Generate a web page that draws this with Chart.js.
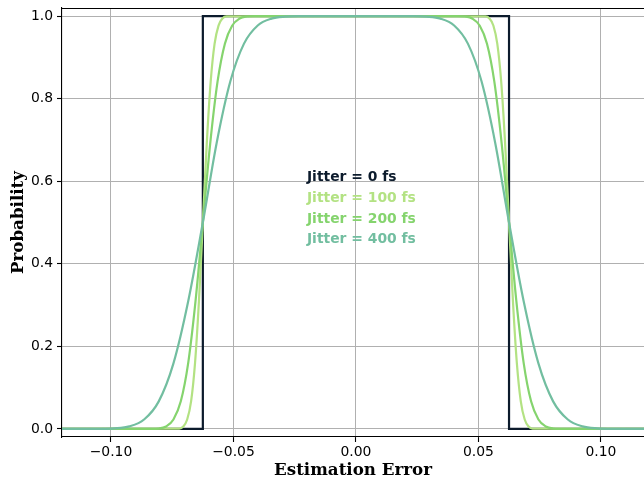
<!DOCTYPE html>
<html>
<head>
<meta charset="utf-8">
<script src="https://cdn.jsdelivr.net/npm/chart.js@4"></script>
<style>
  body { margin: 0; background: #fff; }
  #wrap { width: 644px; height: 478px; position: relative; }
</style>
</head>
<body>
<div id="wrap"><canvas id="jitterChart"></canvas></div>
<script>
// values
const jitter0X = [-0.12, -0.0625, -0.0625, 0.0625, 0.0625, 0.12];
const jitter0Y = [0, 0, 1, 1, 0, 0];

const jitter100X = [-0.12, -0.0721, -0.0705, -0.0689, -0.0673, -0.0657, -0.0641, -0.0625, -0.0609, -0.0593, -0.0577, -0.0561, -0.0545, -0.0529, 0,
  0.0529, 0.0545, 0.0561, 0.0577, 0.0593, 0.0609, 0.0625, 0.0641, 0.0657, 0.0673, 0.0689, 0.0705, 0.0721, 0.12];
const jitter100Y = [0, 0.001, 0.006, 0.023, 0.067, 0.159, 0.309, 0.5, 0.691, 0.841, 0.933, 0.977, 0.994, 0.999, 1,
  0.999, 0.994, 0.977, 0.933, 0.841, 0.691, 0.5, 0.309, 0.159, 0.067, 0.023, 0.006, 0.001, 0];

const jitter200X = [-0.12, -0.0835, -0.0805, -0.0775, -0.0745, -0.0715, -0.0685, -0.0655, -0.0625, -0.0595, -0.0565, -0.0535, -0.0505, -0.0475, -0.0445, -0.0415, 0,
  0.0415, 0.0445, 0.0475, 0.0505, 0.0535, 0.0565, 0.0595, 0.0625, 0.0655, 0.0685, 0.0715, 0.0745, 0.0775, 0.0805, 0.0835, 0.12];
const jitter200Y = [0, 0.0002, 0.001, 0.006, 0.023, 0.067, 0.159, 0.309, 0.5, 0.691, 0.841, 0.933, 0.977, 0.994, 0.999, 1.0, 1,
  1.0, 0.999, 0.994, 0.977, 0.933, 0.841, 0.691, 0.5, 0.309, 0.159, 0.067, 0.023, 0.006, 0.001, 0.0002, 0];

const jitter400X = [-0.12, -0.1045, -0.0985, -0.0925, -0.0865, -0.0805, -0.0745, -0.0685, -0.0625, -0.0569, -0.0513, -0.0457, -0.0401, -0.0345, -0.0289, -0.0233, 0,
  0.0233, 0.0289, 0.0345, 0.0401, 0.0457, 0.0513, 0.0569, 0.0625, 0.0685, 0.0745, 0.0805, 0.0865, 0.0925, 0.0985, 0.1045, 0.12];
const jitter400Y = [0, 0.0002, 0.0013, 0.0062, 0.0228, 0.0668, 0.1587, 0.3085, 0.5, 0.6915, 0.8413, 0.9332, 0.9772, 0.9938, 0.9987, 0.9998, 1,
  0.9998, 0.9987, 0.9938, 0.9772, 0.9332, 0.8413, 0.6915, 0.5, 0.3085, 0.1587, 0.0668, 0.0228, 0.0062, 0.0013, 0.0002, 0];

const seriesLabels = ['Jitter = 0 fs', 'Jitter = 100 fs', 'Jitter = 200 fs', 'Jitter = 400 fs'];
const seriesColors = ['#0c1b2c', '#b3e283', '#85d46e', '#72bea0'];

const xTicks = [-0.1, -0.05, 0, 0.05, 0.1];
const xTickLabels = ['\u22120.10', '\u22120.05', '0.00', '0.05', '0.10'];
const yTicks = [0, 0.2, 0.4, 0.6, 0.8, 1.0];
const yTickLabels = ['0.0', '0.2', '0.4', '0.6', '0.8', '1.0'];

// text annotation anchor (data coords)
const labelX = -0.02;
const labelY = [0.6, 0.55, 0.5, 0.45];

function pairs(xs, ys) {
  return xs.map((x, i) => ({ x: x, y: ys[i] }));
}

const allX = [jitter0X, jitter100X, jitter200X, jitter400X];
const allY = [jitter0Y, jitter100Y, jitter200Y, jitter400Y];

const datasets = seriesLabels.map((label, i) => ({
  label: label,
  data: pairs(allX[i], allY[i]),
  borderColor: seriesColors[i],
  borderWidth: 2.2,
  pointRadius: 0,
  fill: false,
  cubicInterpolationMode: i === 0 ? 'default' : 'monotone',
  tension: 0,
  order: 4 - i
}));

const framePlugin = {
  id: 'frame',
  afterDatasetsDraw(chart) {
    const { ctx, chartArea, scales } = chart;
    ctx.save();
    // top spine
    ctx.strokeStyle = '#000';
    ctx.lineWidth = 1.1;
    ctx.beginPath();
    ctx.moveTo(chartArea.left, chartArea.top + 0.5);
    ctx.lineTo(chartArea.right, chartArea.top + 0.5);
    ctx.stroke();
    // series labels
    ctx.font = 'bold 13.9px "DejaVu Sans"';
    ctx.textBaseline = 'alphabetic';
    ctx.textAlign = 'left';
    const px = scales.x.getPixelForValue(labelX);
    seriesLabels.forEach((t, i) => {
      ctx.fillStyle = seriesColors[i];
      ctx.fillText(t, px, scales.y.getPixelForValue(labelY[i]));
    });
    ctx.restore();
  }
};

const tickFont = { family: 'DejaVu Sans', size: 13.9 };
const titleFont = { family: 'DejaVu Serif', size: 16.7, weight: 'bold', lineHeight: 1 };

new Chart(document.getElementById('jitterChart').getContext('2d'), {
  type: 'line',
  data: { datasets: datasets },
  options: {
    responsive: true,
    maintainAspectRatio: false,
    animation: false,
    layout: { padding: { top: 8, right: 0, left: 0, bottom: 0 } },
    plugins: { legend: { display: false }, tooltip: { enabled: false } },
    scales: {
      x: {
        type: 'linear',
        min: -0.12,
        max: 0.1176,
        afterBuildTicks(scale) { scale.ticks = xTicks.map(v => ({ value: v })); },
        afterFit(scale) { scale.height = 41; scale.paddingLeft = 0; scale.paddingRight = 0; },
        ticks: {
          font: tickFont,
          color: '#000',
          padding: 2,
          maxRotation: 0,
          callback: (v, i) => xTickLabels[i]
        },
        grid: { color: '#b0b0b0', lineWidth: 1, tickColor: '#000', tickLength: 5, tickWidth: 1.1 },
        border: { color: '#000', width: 1.1 },
        title: { display: true, text: 'Estimation Error', font: titleFont, color: '#000', padding: { top: 0, bottom: -1 } }
      },
      y: {
        type: 'linear',
        min: -0.0195,
        max: 1.0195,
        afterBuildTicks(scale) { scale.ticks = yTicks.map(v => ({ value: v })); },
        afterFit(scale) { scale.width = 62; scale.paddingTop = 0; scale.paddingBottom = 0; },
        ticks: {
          font: tickFont,
          color: '#000',
          padding: 4,
          callback: (v, i) => yTickLabels[i]
        },
        grid: { color: '#b0b0b0', lineWidth: 1, tickColor: '#000', tickLength: 5, tickWidth: 1.1 },
        border: { color: '#000', width: 1.1 },
        title: { display: true, text: 'Probability', font: titleFont, color: '#000', padding: { top: 10, bottom: 0 } }
      }
    }
  },
  plugins: [framePlugin]
});
</script>
</body>
</html>
